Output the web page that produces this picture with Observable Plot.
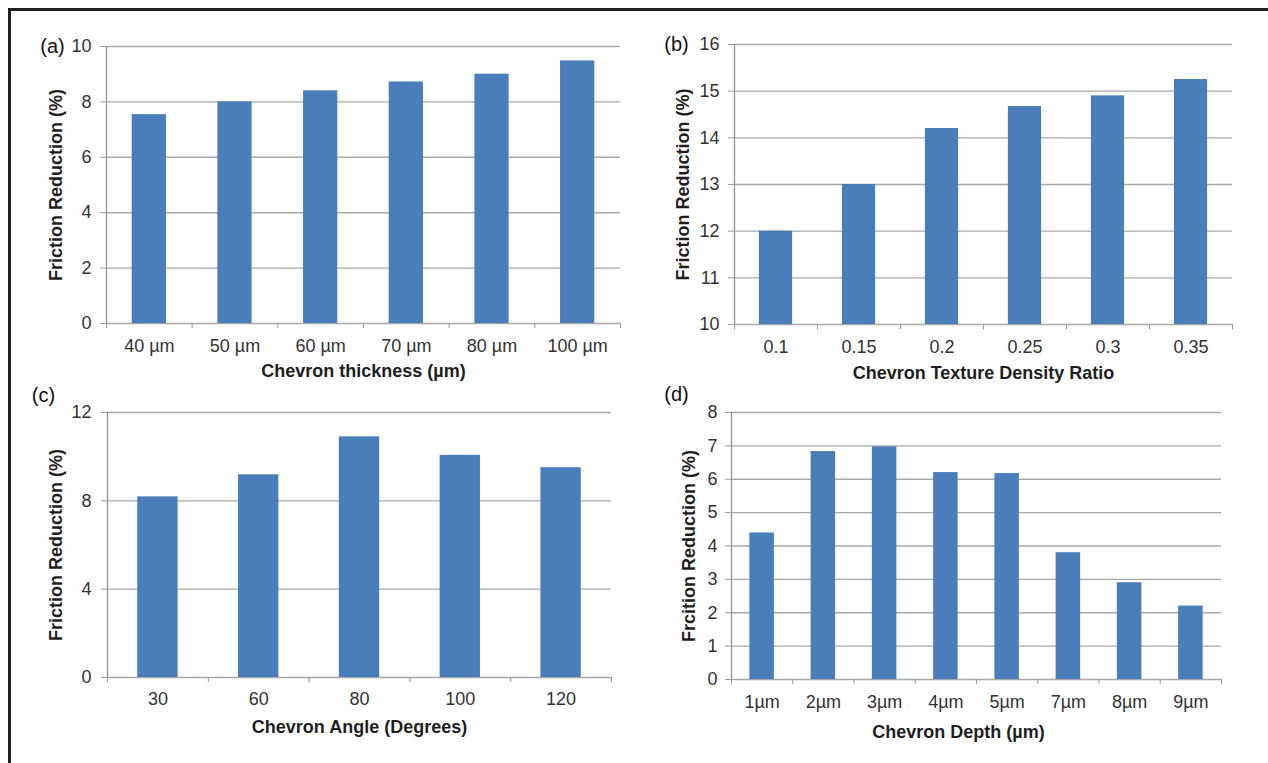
<!DOCTYPE html>
<html>
<head>
<meta charset="utf-8">
<script src="https://cdn.jsdelivr.net/npm/d3@7"></script>
<script src="https://cdn.jsdelivr.net/npm/@observablehq/plot@0.6"></script>
<style>
  html, body { margin: 0; padding: 0; background: #fff; }
  #page { position: relative; width: 1268px; height: 763px; overflow: hidden; background: #fff; }
  #frame { position: absolute; left: 8px; top: 8px; right: -10px; bottom: -10px;
           border-left: 3px solid #231f20; border-top: 3px solid #231f20; }
  .panel { position: absolute; }
  .panel svg { overflow: visible; }
</style>
</head>
<body>
<div id="page"><div id="frame"></div></div>
<script>
// ---- Data ----
const thicknessCats = ["40 µm", "50 µm", "60 µm", "70 µm", "80 µm", "100 µm"];
const thicknessVals = [7.54, 8.0, 8.4, 8.72, 9.0, 9.48];

const densityCats = ["0.1", "0.15", "0.2", "0.25", "0.3", "0.35"];
const densityVals = [12.0, 13.0, 14.2, 14.67, 14.9, 15.25];

const angleCats = ["30", "60", "80", "100", "120"];
const angleVals = [8.18, 9.18, 10.9, 10.06, 9.5];

const depthCats = ["1µm", "2µm", "3µm", "4µm", "5µm", "7µm", "8µm", "9µm"];
const depthVals = [4.39, 6.83, 6.97, 6.2, 6.17, 3.8, 2.9, 2.2];

const ticksA = [0, 2, 4, 6, 8, 10];
const ticksB = [10, 11, 12, 13, 14, 15, 16];
const ticksC = [0, 4, 8, 12];
const ticksD = [0, 1, 2, 3, 4, 5, 6, 7, 8];

// ---- Styles ----
const barColor = "#4a7ebb";
const gridColor = "#a9a9a9";
const axisColor = "#9a9a9a";
const tickText = "#333333";
const titleText = "#1e1e1e";
const font = "'Liberation Sans', Arial, sans-serif";

function panel(o) {
  const n = o.cats.length;
  const data = o.cats.map((c, i) => ({c, v: o.vals[i], i}));
  const y0 = o.ticks[0];
  return Plot.plot({
    width: o.width, height: o.height,
    marginLeft: o.ml, marginRight: o.mr, marginTop: o.mt, marginBottom: o.mb,
    style: {fontFamily: font, fontSize: "18px", background: "transparent", overflow: "visible"},
    x: {type: "linear", domain: [0, n], axis: null},
    y: {domain: [o.ticks[0], o.ticks[o.ticks.length - 1]], axis: null},
    marks: [
      Plot.ruleY(o.ticks, {stroke: gridColor, strokeWidth: 1.4}),
      Plot.rect(data, {x1: d => d.i + 0.3, x2: d => d.i + 0.7, y1: y0, y2: "v", fill: barColor}),
      Plot.ruleX([0], {stroke: axisColor, strokeWidth: 1.4}),
      Plot.axisY(o.ticks, {label: null, tickSize: 6, tickPadding: o.tp, stroke: axisColor, fill: tickText, fontSize: 18}),
      Plot.axisX(d3.range(n + 1), {label: null, tickSize: 5, tickFormat: () => "", stroke: axisColor}),
      Plot.text(data, {x: d => d.i + 0.5, y: y0, text: "c", dy: o.xl, fill: tickText, fontSize: 18,
        textAnchor: "middle", lineAnchor: "middle"}),
      Plot.text([o.xTitle], {frameAnchor: "bottom", dy: o.xt, dx: o.xtdx || 0, fontWeight: "bold", fill: titleText,
        fontSize: 18, textAnchor: "middle", lineAnchor: "middle"}),
      Plot.text([o.yTitle], {frameAnchor: "left", dx: o.yt, rotate: -90, fontWeight: "bold", fill: titleText,
        fontSize: 18, textAnchor: "middle", lineAnchor: "middle"}),
      Plot.text([o.tag], {frameAnchor: "top-left", dx: o.tagdx, dy: o.tagdy, fill: "#111", fontSize: 20,
        textAnchor: "middle", lineAnchor: "middle"})
    ]
  });
}

const page = document.getElementById("page");
function place(svg, left, top) {
  const d = document.createElement("div");
  d.className = "panel";
  d.style.left = left + "px";
  d.style.top = top + "px";
  d.appendChild(svg);
  page.appendChild(d);
}

place(panel({cats: thicknessCats, vals: thicknessVals, ticks: ticksA,
  xTitle: "Chevron thickness (µm)", yTitle: "Friction Reduction (%)", tag: "(a)",
  width: 634, height: 385, ml: 106, mr: 14, mt: 46, mb: 62, tp: 9,
  xl: 23, xt: 48, yt: -50, tagdx: -54, tagdy: 0}), 0, 0);

place(panel({cats: densityCats, vals: densityVals, ticks: ticksB,
  xTitle: "Chevron Texture Density Ratio", yTitle: "Friction Reduction (%)", tag: "(b)",
  width: 634, height: 385, ml: 100, mr: 36, mt: 44, mb: 61, tp: 9,
  xl: 23, xt: 49, yt: -51, tagdx: -58, tagdy: 0}), 634, 0);

place(panel({cats: angleCats, vals: angleVals, ticks: ticksC,
  xTitle: "Chevron Angle (Degrees)", yTitle: "Friction Reduction (%)", tag: "(c)",
  width: 634, height: 378, ml: 107, mr: 23, mt: 27, mb: 86, tp: 10,
  xl: 22, xt: 50, yt: -51, tagdx: -64, tagdy: -17}), 0, 385);

place(panel({cats: depthCats, vals: depthVals, ticks: ticksD,
  xTitle: "Chevron Depth (µm)", yTitle: "Frcition Reduction (%)", tag: "(d)",
  width: 634, height: 378, ml: 97, mr: 47, mt: 27, mb: 84, tp: 8,
  xl: 23, xt: 53, xtdx: -18, yt: -42, tagdx: -55, tagdy: -18}), 634, 385);
</script>
</body>
</html>
